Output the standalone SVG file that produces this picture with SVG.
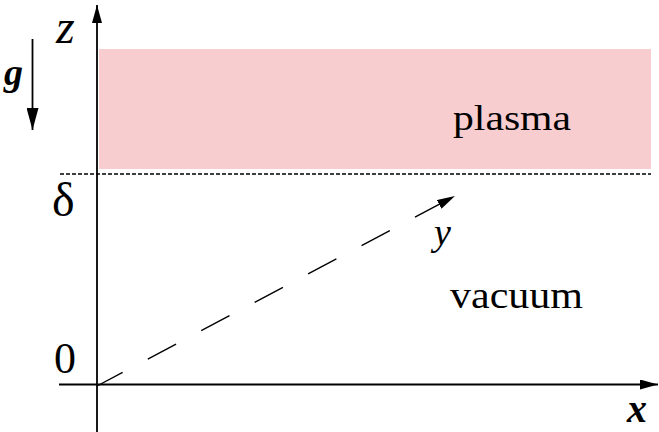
<svg xmlns="http://www.w3.org/2000/svg" width="659" height="432" viewBox="0 0 659 432">
<style>
.t{font-family:"Liberation Serif","Times New Roman",serif;fill:#000}
.ax{stroke:#000;stroke-width:1.8;fill:none}
</style>
<defs>
<marker id="ah" viewBox="0 0 18 10" refX="18" refY="5" markerWidth="18" markerHeight="10" markerUnits="userSpaceOnUse" orient="auto">
<path d="M0,0 L18,5 L0,10 Z" fill="#000"/>
</marker>
<marker id="ahg" viewBox="0 0 22 12" refX="22" refY="6" markerWidth="22" markerHeight="12" markerUnits="userSpaceOnUse" orient="auto">
<path d="M0,0 L22,6 L0,12 Z" fill="#000"/>
</marker>
</defs>
<rect width="659" height="432" fill="#fff"/>
<g id="plasma">
<rect x="99" y="49" width="552" height="120" fill="#f7cdd0"/>
<text class="t" x="453" y="130" font-size="36" textLength="118" lengthAdjust="spacingAndGlyphs">plasma</text>
</g>
<g id="vacuum">
<text class="t" x="450" y="308" font-size="38" textLength="133" lengthAdjust="spacingAndGlyphs">vacuum</text>
</g>
<g id="connectors">
<line x1="60" y1="174" x2="651" y2="174" stroke="#000" stroke-width="1.3" stroke-dasharray="4 2"/>
<line class="ax" x1="97" y1="432" x2="97" y2="5" marker-end="url(#ah)"/>
<line class="ax" x1="59" y1="384.5" x2="658" y2="384.5" marker-end="url(#ah)"/>
<line x1="97" y1="386" x2="455" y2="196" stroke="#000" stroke-width="1.4" stroke-dasharray="32 28.5" stroke-dashoffset="3" marker-end="url(#ah)"/>
<line class="ax" x1="32.5" y1="39" x2="32.5" y2="130" marker-end="url(#ahg)"/>
</g>
<g id="labels">
<text class="t" x="56" y="43" font-size="48" font-style="italic">z</text>
<text class="t" x="4" y="85" font-size="38" font-style="italic" font-weight="bold">g</text>
<text class="t" x="52" y="216" font-size="48">δ</text>
<text class="t" x="54" y="373" font-size="44">0</text>
<text class="t" x="434" y="245" font-size="38" font-style="italic">y</text>
<text class="t" x="627" y="422" font-size="40" font-style="italic" font-weight="bold">x</text>
</g>
</svg>
